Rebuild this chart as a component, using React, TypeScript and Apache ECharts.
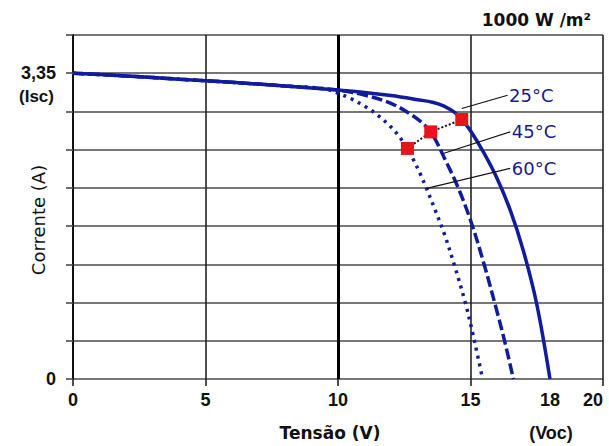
import React, { useEffect, useRef } from 'react';
import * as echarts from 'echarts';

// I-V curves (voltage in V, current in A)
const voltage25 = [0, 2, 4, 6, 8, 10, 11, 12, 13, 13.6, 14.0, 14.4, 14.67, 15.0, 15.5, 16.0, 16.5, 17.0, 17.5, 18.0];
const current25 = [3.35, 3.32, 3.285, 3.25, 3.21, 3.165, 3.14, 3.105, 3.06, 3.03, 2.99, 2.92, 2.843, 2.72, 2.48, 2.2, 1.85, 1.4, 0.82, 0];

const voltage45 = [0, 2, 4, 6, 8, 10, 11, 12, 12.8, 13.2, 13.5, 13.75, 14.0, 14.5, 15.0, 15.5, 16.0, 16.3, 16.62];
const current45 = [3.35, 3.32, 3.285, 3.25, 3.21, 3.165, 3.11, 3.02, 2.89, 2.8, 2.707, 2.58, 2.43, 2.12, 1.74, 1.27, 0.74, 0.4, 0];

const voltage60 = [0, 2, 4, 6, 8, 9.5, 10, 10.5, 11, 11.5, 12, 12.3, 12.62, 12.85, 13.1, 13.35, 13.6, 14.0, 14.4, 14.8, 15.1, 15.42];
const current60 = [3.35, 3.32, 3.285, 3.25, 3.21, 3.18, 3.13, 3.07, 2.99, 2.89, 2.76, 2.66, 2.526, 2.4, 2.25, 2.08, 1.9, 1.6, 1.24, 0.84, 0.48, 0.05];

// maximum power points
const mppVoltage = [14.67, 13.5, 12.62];
const mppCurrent = [2.843, 2.707, 2.526];

// temperature labels and their pointer lines
const tempLabels = ['25°C', '45°C', '60°C'];
const labelVoltage = [16.4, 16.5, 16.5];
const labelCurrent = [3.109, 2.707, 2.307];
const pointerVoltage = [14.67, 13.97, 13.35];
const pointerCurrent = [2.964, 2.471, 2.088];

// axes
const xMin = 0;
const xMax = 20;
const xStep = 5;
const extraXLabel = 18;
const yMax = 3.76875;
const yStep = 0.41875;
const isc = 3.35;

const navy = '#0f1c9c';
const zip = (xs: number[], ys: number[]) => xs.map((x, i) => [x, ys[i]]);

export default function App() {
  const ref = useRef<HTMLDivElement>(null);
  useEffect(() => {
    const chart = echarts.init(ref.current!, null, { renderer: 'svg' });
    const tickFont = { fontFamily: 'Liberation Sans', fontWeight: 'bold' as const, fontSize: 18, color: '#111' };
    const option: any = {
      animation: false,
      backgroundColor: '#fff',
      grid: { left: 73, right: 6, top: 35, bottom: 67, containLabel: false, outerBoundsMode: 'none' },
      xAxis: [
        {
          type: 'value', min: xMin, max: xMax, interval: xStep, position: 'bottom',
          name: 'Tensão (V)', nameLocation: 'middle', nameGap: 45, nameMoveOverlap: false,
          nameTextStyle: { fontFamily: 'DejaVu Sans', fontWeight: 'bold', fontSize: 17, color: '#111', padding: [0, 16, 0, 0] },
          axisLine: { show: false },
          axisTick: { show: true, length: 7, lineStyle: { color: '#222', width: 1.6 } },
          splitLine: { show: true, lineStyle: { color: '#222', width: 1.6 } },
          axisLabel: { ...tickFont, margin: 12, hideOverlap: false, alignMaxLabel: 'right' },
        },
        {
          type: 'value', min: xMin, max: xMax, interval: 1, position: 'bottom',
          axisLine: { show: false }, axisTick: { show: false }, splitLine: { show: false },
          axisLabel: { ...tickFont, margin: 12, formatter: (v: number) => (Math.abs(v - extraXLabel) < 1e-6 ? String(extraXLabel) : '') },
        },
      ],
      yAxis: {
        type: 'value', min: 0, max: yMax, interval: yStep,
        name: 'Corrente (A)', nameLocation: 'middle', nameGap: 26, nameRotate: 90, nameMoveOverlap: false,
        nameTextStyle: { fontFamily: 'DejaVu Sans', fontSize: 18, color: '#111', padding: [0, 26, 0, 0] },
        axisLine: { show: true, lineStyle: { color: '#111', width: 2 } },
        axisTick: { show: true, length: 7, lineStyle: { color: '#4a4a4a', width: 1.6 } },
        splitLine: { show: true, lineStyle: { color: '#4a4a4a', width: 1.6 } },
        axisLabel: {
          ...tickFont, margin: 17,
          formatter: (v: number) => (Math.abs(v) < 1e-9 ? '0' : Math.abs(v - isc) < 1e-6 ? '3,35' : ''),
        },
      },
      graphic: [
        { type: 'text', right: 18, top: 11, style: { text: '1000 W /m²', fontFamily: 'DejaVu Sans', fontWeight: 'bold', fontSize: 17, fill: '#111' } },
        { type: 'text', x: 54, y: 96, style: { text: '(Isc)', fontFamily: 'Liberation Sans', fontWeight: 'bold', fontSize: 17, fill: '#111', align: 'right', verticalAlign: 'middle' } },
        { type: 'text', x: 551, y: 433, style: { text: '(Voc)', fontFamily: 'Liberation Sans', fontWeight: 'bold', fontSize: 18, fill: '#111', align: 'center', verticalAlign: 'middle' } },
      ],
      series: [
        {
          type: 'line', name: '60°C', data: zip(voltage60, current60), smooth: 0.35,
          symbol: 'none', lineStyle: { color: navy, width: 3.5, type: [3, 5] }, z: 3,
        },
        {
          type: 'line', name: '45°C', data: zip(voltage45, current45), smooth: 0.35,
          symbol: 'none', lineStyle: { color: navy, width: 3.5, type: [11, 4] }, z: 4,
        },
        {
          type: 'line', name: '25°C', data: zip(voltage25, current25), smooth: 0.35,
          symbol: 'none', lineStyle: { color: navy, width: 3.5 }, z: 5,
          markLine: {
            silent: true, symbol: 'none', label: { show: false },
            lineStyle: { color: '#000', width: 3, type: 'solid' },
            data: [{ xAxis: 10 }], z: 1,
          },
        },
        ...tempLabels.map((t, i) => ({
          type: 'line', name: t + ' pointer', data: [[labelVoltage[i], labelCurrent[i]], [pointerVoltage[i], pointerCurrent[i]]],
          symbol: 'none', lineStyle: { color: '#111', width: 1.2 }, z: 6,
        })),
        {
          type: 'scatter', name: 'labels',
          data: tempLabels.map((t, i) => [labelVoltage[i], labelCurrent[i], t]),
          symbolSize: 1, itemStyle: { color: 'transparent', opacity: 1 }, z: 7,
          label: {
            show: true, position: 'right', distance: 1, formatter: (p: any) => p.data[2],
            fontFamily: 'DejaVu Sans', fontSize: 18, color: '#1a1a8a', opacity: 1,
          },
        },
        {
          type: 'line', name: 'mpp link', data: zip(mppVoltage, mppCurrent), symbol: 'none',
          lineStyle: { color: '#111', width: 2, type: 'dotted' }, z: 8,
        },
        {
          type: 'scatter', name: 'mpp', data: zip(mppVoltage, mppCurrent), symbol: 'rect', symbolSize: 13,
          itemStyle: { color: '#e8141c', opacity: 1 }, z: 9,
        },
      ],
    };
    chart.setOption(option);
    return () => chart.dispose();
  }, []);
  return <div ref={ref} style={{ position: 'fixed', left: 0, top: 0, width: 609, height: 446, background: '#fff' }} />;
}
